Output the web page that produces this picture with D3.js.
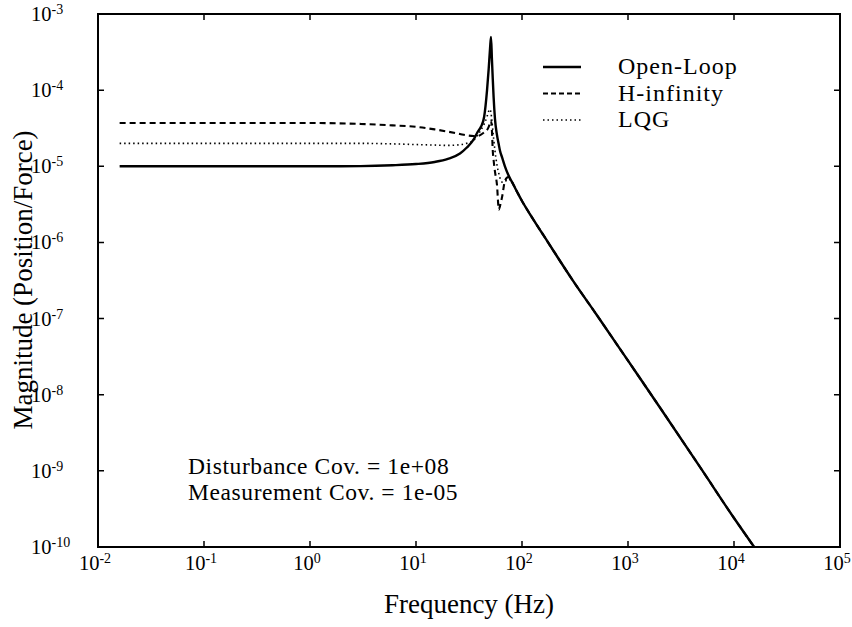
<!DOCTYPE html>
<html lang="en">
	<head>
		<meta charset="utf-8">
		<title>Magnitude response</title>
		<script src="https://d3js.org/d3.v7.min.js"></script>
		<style type="text/css">
			body { margin: 0; background: #fff; }
			text { font-family: "Liberation Serif", "Times New Roman", serif; fill: #000; }
		</style>
	</head>
	<body>
		<script type="text/javascript">
			// data
			var freq = [0.016, 0.1, 1, 3, 6, 10, 15, 20, 26, 30, 35, 38, 41, 44, 46.8, 48.5, 50, 51, 52, 53,
				54, 55.6, 58, 60.5, 62, 65, 69, 74, 80, 90, 100, 120, 155, 200, 300, 500, 1000, 2000, 5000, 10000, 15500];
			var openLoop = [1.0e-5, 1.0e-5, 1.0e-5, 1.005e-5, 1.03e-5, 1.07e-5, 1.14e-5, 1.25e-5, 1.47e-5, 1.75e-5,
				2.25e-5, 2.8e-5, 3.3e-5, 4.5e-5, 1.0e-4, 1.9e-4, 3.6e-4, 5.0e-4, 2.6e-4, 1.4e-4,
				8.0e-5, 4.2e-5, 2.6e-5, 1.9e-5, 1.6e-5, 1.3e-5, 1.0e-5, 7.8e-6, 6.3e-6, 4.6e-6,
				3.5e-6, 2.3e-6, 1.32e-6, 7.6e-7, 3.2e-7, 1.15e-7, 2.8e-8, 6.8e-9, 1.02e-9, 2.4e-10, 1.0e-10];
			var hInf = [3.7e-5, 3.7e-5, 3.7e-5, 3.6e-5, 3.45e-5, 3.3e-5, 3.05e-5, 2.85e-5, 2.65e-5, 2.55e-5,
				2.5e-5, 2.5e-5, 2.6e-5, 2.8e-5, 3.0e-5, 3.3e-5, 3.7e-5, 4.0e-5, 3.0e-5, 1.6e-5,
				1.2e-5, 8.5e-6, 5.8e-6, 2.7e-6, 3.0e-6, 4.0e-6, 6.4e-6, 7.2e-6, 6.3e-6, 4.6e-6,
				3.5e-6, 2.3e-6, 1.32e-6, 7.6e-7, 3.2e-7, 1.15e-7, 2.8e-8, 6.8e-9, 1.02e-9, 2.4e-10, 1.0e-10];
			var lqg = [2.0e-5, 2.0e-5, 2.0e-5, 2.0e-5, 1.97e-5, 1.93e-5, 1.9e-5, 1.88e-5, 1.92e-5, 2.0e-5,
				2.2e-5, 2.55e-5, 3.0e-5, 3.6e-5, 4.5e-5, 5.3e-5, 5.6e-5, 5.0e-5, 4.0e-5, 3.0e-5,
				2.3e-5, 1.6e-5, 1.05e-5, 8.0e-6, 7.0e-6, 6.2e-6, 6.3e-6, 6.8e-6, 6.3e-6, 4.6e-6,
				3.5e-6, 2.3e-6, 1.32e-6, 7.6e-7, 3.2e-7, 1.15e-7, 2.8e-8, 6.8e-9, 1.02e-9, 2.4e-10, 1.0e-10];

			var seriesNames = ["Open-Loop", "H-infinity", "LQG"];
			var xExps = [-2, -1, 0, 1, 2, 3, 4, 5];
			var yExps = [-10, -9, -8, -7, -6, -5, -4, -3];
			var notes = ["Disturbance Cov. = 1e+08", "Measurement Cov. = 1e-05"];

			//Width and height
			var w = 852;
			var h = 627;
			var pLeft = 98, pRight = 840, pTop = 14, pBottom = 547;

			var x = d3.scaleLog().domain([1e-2, 1e5]).range([pLeft, pRight]);
			var y = d3.scaleLog().domain([1e-10, 1e-3]).range([pBottom, pTop]);

			var svg = d3.select("body")
						.append("svg")
						.attr("width", w)
						.attr("height", h);

			svg.append("clipPath").attr("id", "plot")
				.append("rect")
				.attr("x", pLeft).attr("y", pTop)
				.attr("width", pRight - pLeft).attr("height", pBottom - pTop);

			var styles = [
				{ width: 2.4, dash: null },
				{ width: 2.1, dash: "6,4" },
				{ width: 1.6, dash: "1.5,3" }
			];
			var allSeries = [openLoop, hInf, lqg];

			var line = d3.line()
				.x(function(d) { return x(d[0]); })
				.y(function(d) { return y(d[1]); })
				.curve(d3.curveMonotoneX);

			var g = svg.append("g").attr("clip-path", "url(#plot)");
			allSeries.forEach(function(vals, i) {
				g.append("path")
					.datum(freq.map(function(f, j) { return [f, vals[j]]; }))
					.attr("d", line)
					.attr("fill", "none")
					.attr("stroke", "#000")
					.attr("stroke-width", styles[i].width)
					.attr("stroke-dasharray", styles[i].dash);
			});

			// ticks on all four sides, pointing in
			var tl = 6;
			svg.selectAll(".xt")
				.data(xExps.slice(1, -1))
				.enter().append("path")
				.attr("d", function(e) {
					var px = x(Math.pow(10, e));
					return "M" + px + "," + pBottom + "v" + (-tl) + "M" + px + "," + pTop + "v" + tl;
				})
				.attr("stroke", "#000").attr("stroke-width", 1.5);
			svg.selectAll(".yt")
				.data(yExps.slice(1, -1))
				.enter().append("path")
				.attr("d", function(e) {
					var py = y(Math.pow(10, e));
					return "M" + pLeft + "," + py + "h" + tl + "M" + pRight + "," + py + "h" + (-tl);
				})
				.attr("stroke", "#000").attr("stroke-width", 1.5);

			svg.append("rect")
				.attr("x", pLeft).attr("y", pTop)
				.attr("width", pRight - pLeft).attr("height", pBottom - pTop)
				.attr("fill", "none").attr("stroke", "#000").attr("stroke-width", 2);

			// tick labels
			function powLabel(sel) {
				sel.append("tspan").text("10");
				sel.append("tspan").attr("dy", -7).attr("font-size", 14).text(function(e) { return e; });
			}
			svg.selectAll(".xl")
				.data(xExps)
				.enter().append("text")
				.attr("x", function(e) { return x(Math.pow(10, e)) - 3; })
				.attr("y", pBottom + 23)
				.attr("text-anchor", "middle")
				.attr("font-size", 20.5)
				.call(powLabel);
			svg.selectAll(".yl")
				.data(yExps)
				.enter().append("text")
				.attr("x", 31)
				.attr("y", function(e) { return y(Math.pow(10, e)) + 7; })
				.attr("font-size", 20.5)
				.call(powLabel);

			// axis titles
			svg.append("text")
				.attr("x", 469).attr("y", 613)
				.attr("text-anchor", "middle")
				.attr("font-size", 27)
				.text("Frequency (Hz)");
			svg.append("text")
				.attr("transform", "translate(32,280) rotate(-90)")
				.attr("text-anchor", "middle")
				.attr("font-size", 27)
				.text("Magnitude (Position/Force)");

			// legend
			var leg = svg.selectAll(".leg")
				.data(seriesNames)
				.enter().append("g")
				.attr("transform", function(d, i) { return "translate(543," + (67 + i * 26.5) + ")"; });
			leg.append("line")
				.attr("x1", 0).attr("x2", 38)
				.attr("stroke", "#000")
				.attr("stroke-width", function(d, i) { return styles[i].width; })
				.attr("stroke-dasharray", function(d, i) { return i == 1 ? "5,3" : styles[i].dash; });
			leg.append("text")
				.attr("x", 75).attr("y", 7)
				.attr("font-size", 24)
				.attr("letter-spacing", 1)
				.text(function(d) { return d; });

			// annotation
			svg.selectAll(".note")
				.data(notes)
				.enter().append("text")
				.attr("x", 188)
				.attr("y", function(d, i) { return 474 + i * 25.5; })
				.attr("font-size", 23.5)
				.attr("letter-spacing", 0.6)
				.text(function(d) { return d; });
		</script>
	</body>
</html>
